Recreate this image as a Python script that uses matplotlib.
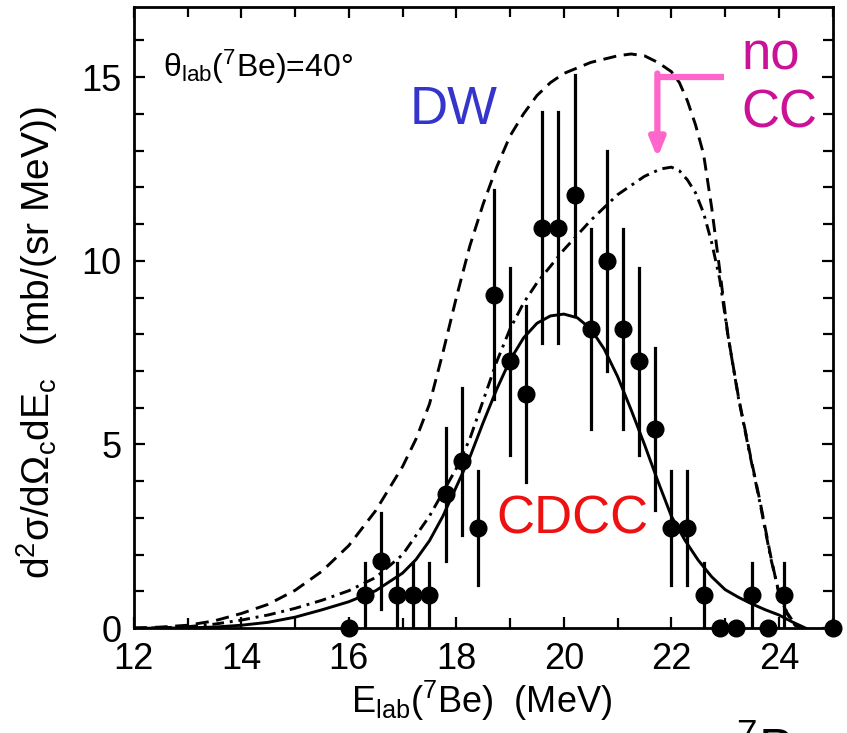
import matplotlib
matplotlib.use("Agg")
import matplotlib.pyplot as plt
from matplotlib.ticker import MultipleLocator

plt.rcParams['font.family'] = ['Liberation Sans', 'DejaVu Sans']
plt.rcParams['mathtext.fontset'] = 'custom'
plt.rcParams['mathtext.rm'] = 'Liberation Sans'
plt.rcParams['mathtext.it'] = 'Liberation Sans:italic'

# data points (E_lab in MeV, cross section, error)
e_data = [16.0, 16.3, 16.6, 16.9, 17.2, 17.5, 17.8, 18.1, 18.4, 18.7, 19.0, 19.3,
          19.6, 19.9, 20.2, 20.5, 20.8, 21.1, 21.4, 21.7, 22.0, 22.3, 22.6, 22.9,
          23.2, 23.5, 23.8, 24.1, 25.0]
xs_data = [0.0, 0.9, 1.83, 0.9, 0.9, 0.9, 3.64, 4.54, 2.72, 9.08, 7.26, 6.38,
           10.9, 10.9, 11.79, 8.15, 10.0, 8.15, 7.26, 5.43, 2.72, 2.72, 0.9, 0.0,
           0.0, 0.9, 0.0, 0.9, 0.0]
xs_err = [0.0, 0.87, 1.3, 0.87, 0.87, 0.87, 1.8, 2.0, 1.55, 2.85, 2.55, 2.4,
          3.15, 3.15, 3.26, 2.72, 3.0, 2.72, 2.55, 2.2, 1.55, 1.55, 0.87, 0.0,
          0.0, 0.87, 0.0, 0.87, 0.0]

# CDCC (solid)
e_cdcc = [12.0, 12.5, 13.0, 13.5, 14.0, 14.5, 15.0, 15.5, 16.0, 16.5, 17.0, 17.25,
          17.5, 17.75, 18.0, 18.25, 18.5, 18.75, 19.0, 19.25, 19.5, 19.75, 20.0,
          20.25, 20.5, 20.75, 21.0, 21.25, 21.5, 21.75, 22.0, 22.25, 22.5, 22.75,
          23.0, 23.25, 23.5, 23.75, 24.0, 24.25, 24.5]
xs_cdcc = [0.0, 0.0, 0.01, 0.03, 0.08, 0.16, 0.3, 0.5, 0.72, 1.02, 1.5, 1.87,
           2.38, 3.05, 3.85, 4.65, 5.6, 6.5, 7.3, 7.9, 8.3, 8.5, 8.55,
           8.45, 8.15, 7.6, 6.85, 5.95, 5.0, 4.0, 3.05, 2.4, 1.85, 1.4,
           1.05, 0.84, 0.66, 0.5, 0.36, 0.17, 0.0]

# DW (dashed)
e_dw = [12.0, 12.5, 13.0, 13.5, 14.0, 14.5, 15.0, 15.5, 16.0, 16.5, 17.0, 17.25,
        17.5, 17.75, 18.0, 18.25, 18.5, 18.75, 19.0, 19.25, 19.5, 19.75, 20.0,
        20.5, 21.0, 21.25, 21.5, 21.75, 22.0, 22.15, 22.3, 22.45, 22.6, 22.75,
        22.9, 23.05, 23.25, 23.45, 23.65, 23.85, 24.0, 24.15, 24.3, 24.45]
xs_dw = [0.0, 0.03, 0.08, 0.2, 0.4, 0.65, 1.03, 1.55, 2.25, 3.2, 4.4, 5.15,
         6.1, 7.5, 9.0, 10.4, 11.55, 12.55, 13.4, 14.0, 14.5, 14.85, 15.1,
         15.4, 15.58, 15.63, 15.58, 15.4, 15.15, 14.85, 14.35, 13.7, 12.9, 11.45,
         9.75, 8.0, 6.28, 4.84, 3.45, 1.95, 0.95, 0.4, 0.08, 0.0]

# no CC (dash-dot)
e_nocc = [12.0, 12.5, 13.0, 13.5, 14.0, 14.5, 15.0, 15.5, 16.0, 16.5, 17.0, 17.5,
          17.75, 18.0, 18.25, 18.5, 18.75, 19.0, 19.25, 19.5, 19.75, 20.0, 20.5,
          21.0, 21.5, 21.8, 22.0, 22.15, 22.3, 22.45, 22.6, 22.75, 22.9, 23.05,
          23.25, 23.45, 23.65, 23.85, 24.0, 24.15, 24.35]
xs_nocc = [0.0, 0.01, 0.04, 0.11, 0.22, 0.36, 0.54, 0.76, 1.02, 1.38, 2.0, 3.05,
           3.7, 4.35, 5.15, 6.2, 7.25, 8.15, 8.85, 9.4, 9.85, 10.3, 11.1,
           11.8, 12.3, 12.5, 12.55, 12.45, 12.2, 11.85, 11.3, 10.5, 9.5, 8.0,
           6.25, 4.8, 3.4, 1.9, 0.98, 0.43, 0.0]

fig = plt.figure(figsize=(8.47, 7.33), dpi=100)
ax = fig.add_axes([0.158, 0.143, 0.825, 0.847])

ax.plot(e_dw, xs_dw, color='black', lw=2.1, linestyle=(0, (4.5, 2.6)))
ax.plot(e_nocc, xs_nocc, color='black', lw=2.1, linestyle=(0, (4.0, 2.0, 1.0, 2.0)))
ax.plot(e_cdcc, xs_cdcc, color='black', lw=2.1)

for x, y, err in zip(e_data, xs_data, xs_err):
    if err > 0:
        ax.plot([x, x], [max(y - err, 0), y + err], color='black', lw=2.3)
ax.plot(e_data, xs_data, 'o', color='black', ms=12, clip_on=False, zorder=5)

ax.set_xlim(12, 25)
ax.set_ylim(0, 16.9)
ax.xaxis.set_major_locator(MultipleLocator(2))
ax.xaxis.set_minor_locator(MultipleLocator(1))
ax.yaxis.set_major_locator(MultipleLocator(5))
ax.yaxis.set_minor_locator(MultipleLocator(1))
ax.tick_params(which='both', direction='in', top=True, right=True, width=1.6,
               labelsize=26)
ax.tick_params(axis='x', pad=10)
ax.tick_params(axis='y', pad=9)
ax.tick_params(which='major', length=8)
ax.tick_params(which='minor', length=7)
for s in ax.spines.values():
    s.set_linewidth(2)

ax.set_xlabel("E$_{\\rm lab}$($^{7}$Be)  (MeV)", fontsize=26)
ax.set_ylabel("d$^{2}$σ/dΩ$_{\\rm c}$dE$_{\\rm c}$   (mb/(sr MeV))", fontsize=28)
ax.xaxis.set_label_coords(0.497, -0.082)
ax.yaxis.set_label_coords(-0.106, 0.46)

ax.text(12.55, 15.0, "θ$_{\\rm lab}$($^{7}$Be)=40°", fontsize=23, va='baseline')
ax.text(17.13, 13.72, "DW", fontsize=38, color='#3535cc', va='baseline')
ax.text(18.75, 2.58, "CDCC", fontsize=38, color='#ee1111', va='baseline')
ax.text(23.3, 15.2, "no", fontsize=38, color='#cc1199', va='baseline')
ax.text(23.3, 13.62, "CC", fontsize=38, color='#cc1199', va='baseline')

# pink bent arrow
ax.plot([22.98, 21.72], [15.0, 15.0], color='#ff66cc', lw=4.5, solid_capstyle='butt')
ax.annotate("", xy=(21.74, 12.8), xytext=(21.74, 15.1),
            arrowprops=dict(arrowstyle='-|>,head_length=1.1,head_width=0.45',
                            color='#ff66cc', lw=4.5, shrinkA=0, shrinkB=0))

fig.text(0.869, -0.045, "$^{7}$Be", fontsize=38, va='baseline')

fig.savefig("out.png", dpi=100)
